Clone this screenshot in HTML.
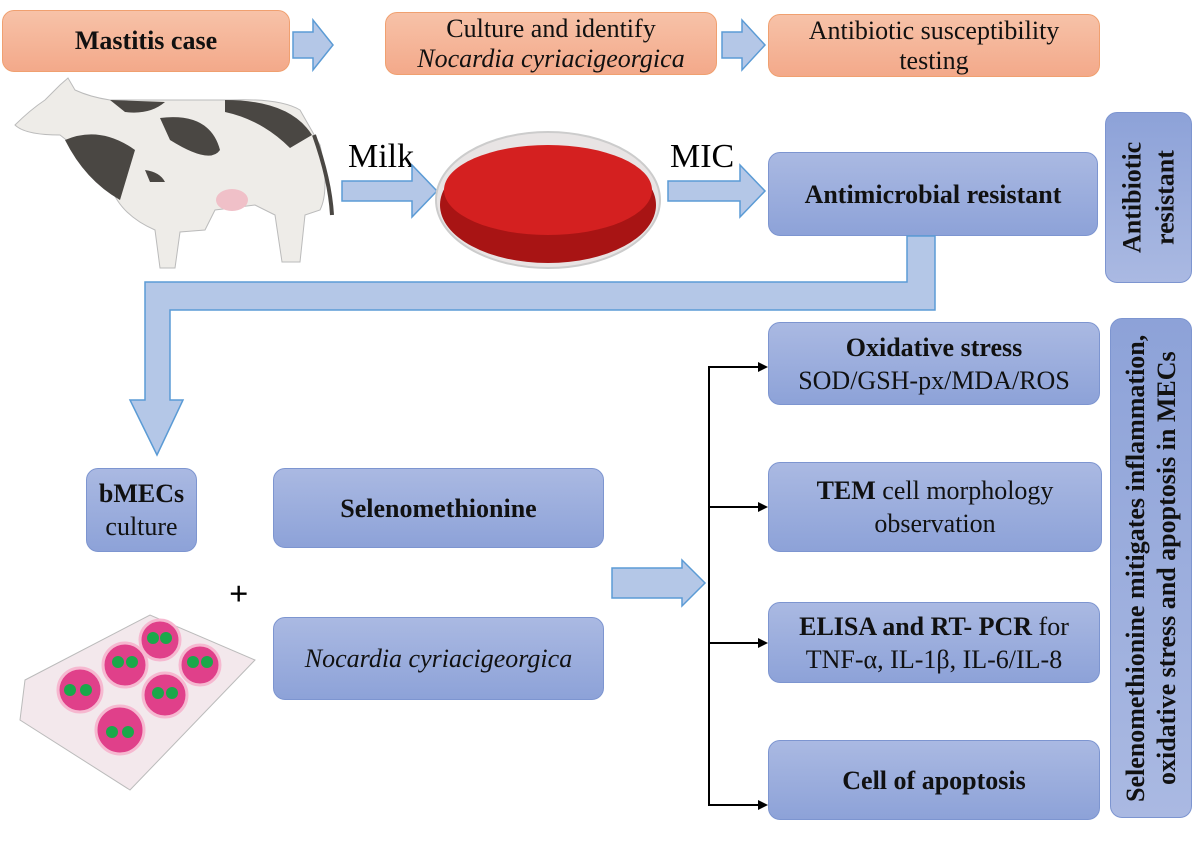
<!DOCTYPE html>
<html><head><meta charset="utf-8"><style>
body{margin:0;width:1200px;height:848px;background:#fff;position:relative;overflow:hidden;font-family:"Liberation Serif",serif;}
.b{position:absolute;box-sizing:border-box;border:1.5px solid #7d95d0;border-radius:12px;background:linear-gradient(#aab9e2,#8da2d8);display:flex;align-items:center;justify-content:center;text-align:center;font-size:26px;line-height:33px;color:#111;}
.o{position:absolute;box-sizing:border-box;border:1.5px solid #f0a070;border-radius:12px;background:linear-gradient(#f7c2a8,#f3a98a);display:flex;align-items:center;justify-content:center;text-align:center;font-size:26px;line-height:30px;color:#111;}
.v{writing-mode:vertical-rl;transform:rotate(180deg);}
</style></head><body>
<div class="o" style="left:2px;top:10px;width:288px;height:62px;font-weight:bold"><span>Mastitis case</span></div>
<div class="o" style="left:385px;top:12px;width:332px;height:63px"><span>Culture and identify<br><i>Nocardia cyriacigeorgica</i></span></div>
<div class="o" style="left:768px;top:14px;width:332px;height:63px"><span>Antibiotic susceptibility<br>testing</span></div>
<div class="b" style="left:768px;top:152px;width:330px;height:84px;font-weight:bold"><span>Antimicrobial resistant</span></div>
<div class="b v" style="left:1105px;top:112px;width:87px;height:171px;font-weight:bold"><span>Antibiotic<br>resistant</span></div>
<div class="b" style="left:86px;top:468px;width:111px;height:84px"><span><b>bMECs</b><br>culture</span></div>
<div class="b" style="left:273px;top:468px;width:331px;height:80px;font-weight:bold"><span>Selenomethionine</span></div>
<div class="b" style="left:273px;top:617px;width:331px;height:83px;font-style:italic"><span>Nocardia cyriacigeorgica</span></div>
<div class="b" style="left:768px;top:322px;width:332px;height:83px"><span><b>Oxidative stress</b><br>SOD/GSH-px/MDA/ROS</span></div>
<div class="b" style="left:768px;top:462px;width:334px;height:90px"><span><b>TEM</b> cell morphology<br>observation</span></div>
<div class="b" style="left:768px;top:602px;width:332px;height:81px"><span><b>ELISA and RT- PCR</b> for<br>TNF-α, IL-1β, IL-6/IL-8</span></div>
<div class="b" style="left:768px;top:740px;width:332px;height:80px;font-weight:bold"><span>Cell of apoptosis</span></div>
<div class="b v" style="left:1110px;top:318px;width:82px;height:500px;font-weight:bold;font-size:26px;line-height:31px"><span>Selenomethionine mitigates inflammation,<br>oxidative stress and apoptosis in MECs</span></div>
<div style="position:absolute;left:348px;top:138px;font-size:34px">Milk</div>
<div style="position:absolute;left:670px;top:138px;font-size:34px">MIC</div>
<div style="position:absolute;left:229px;top:576px;font-size:34px;font-weight:bold">+</div>
<svg width="1200" height="848" style="position:absolute;left:0;top:0">
<g fill="#b4c7e7" stroke="#5b9bd5" stroke-width="1.5">
<polygon points="293,32 313,32 313,20 333,45 313,70 313,58 293,58"/>
<polygon points="722,32 742,32 742,20 765,45 742,70 742,58 722,58"/>
<polygon points="342,181 412,181 412,165 437,191 412,217 412,201 342,201"/>
<polygon points="668,181 740,181 740,165 765,191 740,217 740,201 668,201"/>
<polygon points="907,236 935,236 935,310 170,310 170,400 183,400 157,455 130,400 145,400 145,282 907,282"/>
<polygon points="612,568 682,568 682,560 705,583 682,606 682,598 612,598"/>
</g>
<g stroke="#000" stroke-width="2" fill="none"><path d="M760,367H709V805H760M709,507H760M709,643H760"/></g>
<g fill="#000"><polygon points="768,367 758,362 758,372"/><polygon points="768,507 758,502 758,512"/><polygon points="768,643 758,638 758,648"/><polygon points="768,805 758,800 758,810"/></g>
<!-- cow -->
<g stroke="#bbb" stroke-width="1">
<path d="M15,125 Q30,110 45,100 L60,85 L68,78 L75,90 Q90,97 110,100 L230,100 Q280,98 300,110 L320,145 Q330,190 320,210 L305,215 L300,262 L282,262 L275,215 L255,205 L215,210 L205,230 L180,232 L175,268 L160,268 L155,230 Q120,215 110,185 Q80,150 60,135 Q25,135 15,125Z" fill="#eeece8"/>
</g>
<path d="M110,100 L165,102 Q150,115 125,112Z M160,118 Q210,112 220,150 Q210,165 170,140Z M65,140 Q100,125 135,150 L120,200 Q85,180 65,140Z M225,100 Q290,100 312,135 L290,148 Q262,120 225,112Z M145,170 Q160,172 165,182 L150,182Z" fill="#4a4743"/>
<path d="M314,135 Q330,180 332,215" stroke="#4a4743" stroke-width="4" fill="none"/>
<ellipse cx="232" cy="200" rx="16" ry="11" fill="#f0c0c8"/>
<!-- dish -->
<ellipse cx="548" cy="200" rx="112" ry="68" fill="#e8e4e4" stroke="#ccc" stroke-width="2"/>
<ellipse cx="548" cy="205" rx="108" ry="58" fill="#a81414"/>
<ellipse cx="548" cy="190" rx="104" ry="45" fill="#d42020"/>
<!-- plate -->
<polygon points="25,680 150,615 255,660 130,790 20,720" fill="#f3e8ec" stroke="#bbb"/>
<g fill="#e0408a" stroke="#f6b8d0" stroke-width="3">
<circle cx="80" cy="690" r="22"/><circle cx="125" cy="665" r="22"/><circle cx="160" cy="640" r="20"/>
<circle cx="120" cy="730" r="24"/><circle cx="165" cy="695" r="22"/><circle cx="200" cy="665" r="20"/>
</g>
<g fill="#1aa84a"><circle cx="70" cy="690" r="6"/><circle cx="86" cy="690" r="6"/><circle cx="118" cy="662" r="6"/><circle cx="132" cy="662" r="6"/><circle cx="153" cy="638" r="6"/><circle cx="166" cy="638" r="6"/><circle cx="112" cy="732" r="6"/><circle cx="128" cy="732" r="6"/><circle cx="158" cy="693" r="6"/><circle cx="172" cy="693" r="6"/><circle cx="193" cy="662" r="6"/><circle cx="207" cy="662" r="6"/></g>
</svg>
</body></html>
